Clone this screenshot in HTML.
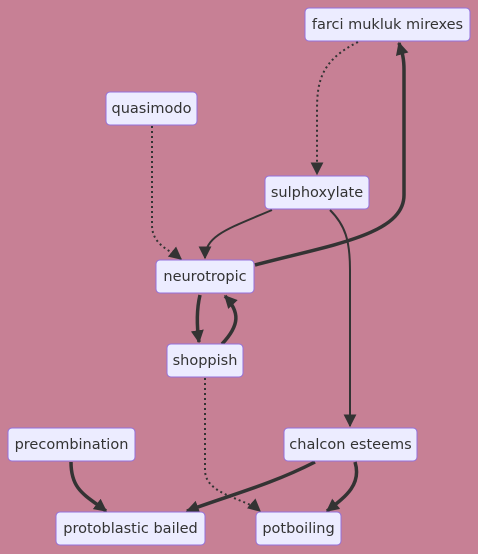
<!DOCTYPE html>
<html><head><meta charset="utf-8"><style>
html,body{margin:0;padding:0;background:#c78095;}
svg{display:block;font-family:"DejaVu Sans","Liberation Sans",sans-serif;}
.n rect{fill:#ececff;stroke:#9370db;stroke-width:1;}
.n text{fill:#333;font-size:14.5px;text-anchor:middle;dominant-baseline:central;}
.e{fill:none;stroke:#333;}
</style></head><body>
<svg width="478" height="554" viewBox="0 0 478 554">
<defs>
<marker id="ah2" viewBox="0 0 10 10" refX="9" refY="5" markerWidth="13" markerHeight="13" orient="auto" markerUnits="userSpaceOnUse"><path d="M0,0L10,5L0,10z" fill="#333"/></marker>
</defs>
<g>
<path class="e" stroke-width="2" stroke-dasharray="2,3" d="M358,42 C322,60 317,80 317,110 L317,174" marker-end="url(#ah2)"/>
<path class="e" stroke-width="2" stroke-dasharray="2,3" d="M152,126 L152,225 C152,245 170,250 181,259" marker-end="url(#ah2)"/>
<path class="e" stroke-width="2" d="M272,210 C230,228 205,235 205,258" marker-end="url(#ah2)"/>
<path class="e" stroke-width="3.5" d="M255,265 C330,245 404,235 404,195 L404,70 C404,55 401,50 399,43" marker-end="url(#ah2)"/>
<path class="e" stroke-width="2" d="M330,210 C345,225 350,240 350,270 L350,426" marker-end="url(#ah2)"/>
<path class="e" stroke-width="3.5" d="M200,295 C196,312 197,328 199,342" marker-end="url(#ah2)"/>
<path class="e" stroke-width="3.5" d="M222,344 C240,325 240,312 225,296" marker-end="url(#ah2)"/>
<path class="e" stroke-width="2" stroke-dasharray="2,3" d="M205,378 L205,470 C205,495 245,498 260,511" marker-end="url(#ah2)"/>
<path class="e" stroke-width="3.5" d="M71,462 C71,490 85,495 106,511" marker-end="url(#ah2)"/>
<path class="e" stroke-width="3.5" d="M315,462 C270,485 230,495 187,511" marker-end="url(#ah2)"/>
<path class="e" stroke-width="3.5" d="M355,462 C362,485 345,497 327,511" marker-end="url(#ah2)"/>
</g>
<g class="n"><rect x="305" y="8" width="165" height="33" rx="4"/><text x="387.5" y="25">farci mukluk mirexes</text></g>
<g class="n"><rect x="106" y="92" width="91" height="33" rx="4"/><text x="151.5" y="109">quasimodo</text></g>
<g class="n"><rect x="265" y="176" width="104" height="33" rx="4"/><text x="317" y="193">sulphoxylate</text></g>
<g class="n"><rect x="156" y="260" width="98" height="33" rx="4"/><text x="205" y="277">neurotropic</text></g>
<g class="n"><rect x="167" y="344" width="76" height="33" rx="4"/><text x="205" y="361">shoppish</text></g>
<g class="n"><rect x="8" y="428" width="127" height="33" rx="4"/><text x="71.5" y="445">precombination</text></g>
<g class="n"><rect x="284" y="428" width="133" height="33" rx="4"/><text x="350.5" y="445">chalcon esteems</text></g>
<g class="n"><rect x="56" y="512" width="149" height="33" rx="4"/><text x="130.5" y="529">protoblastic bailed</text></g>
<g class="n"><rect x="256" y="512" width="85" height="33" rx="4"/><text x="298.5" y="529">potboiling</text></g>
</svg>
</body></html>
